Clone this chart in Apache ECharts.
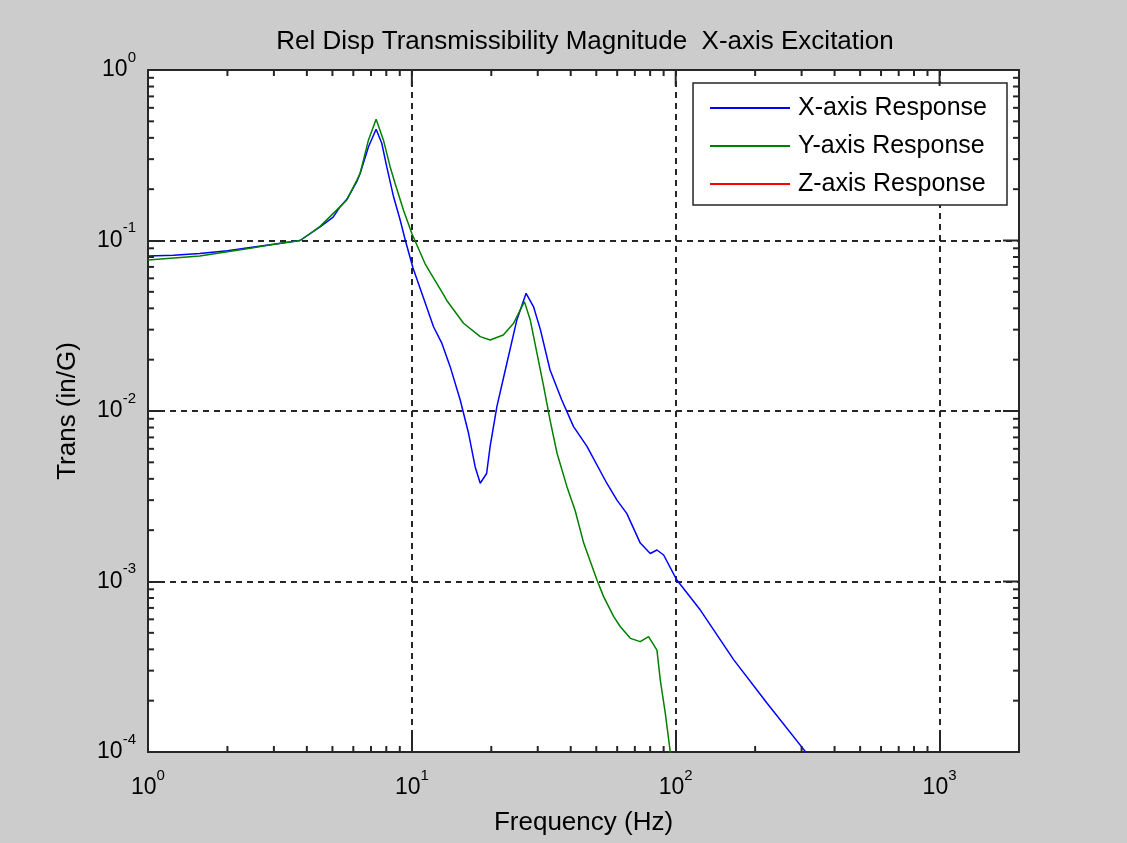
<!DOCTYPE html>
<html>
<head>
<meta charset="utf-8">
<title>Rel Disp Transmissibility</title>
<script src="https://cdn.jsdelivr.net/npm/echarts@6/dist/echarts.min.js"></script>
<style>
  html, body { margin: 0; padding: 0; background: #cccccc; }
  #chart { width: 1127px; height: 843px; }
</style>
</head>
<body>
<div id="chart"></div>
<script>
// frequency (Hz) and transmissibility (in/G)
const freqX = [1.00, 1.25, 1.57, 2.00, 2.44, 3.00, 3.77, 4.49, 5.03, 5.35, 5.68, 6.19, 6.37, 6.85, 7.32, 7.69, 8.03, 8.52, 9.03, 9.45,
  10.1, 11.07, 12.08, 13.0, 13.97, 15.25, 16.4, 17.38, 18.16, 19.2, 19.8, 21.0, 22.9, 25.0, 27.1, 28.9, 30.7, 33.4, 37.0,
  41.0, 46.1, 54.8, 59.9, 65.3, 73.4, 80.1, 84.9, 90.0, 101, 124, 166, 222, 314];
const magX = [0.081, 0.082, 0.084, 0.087, 0.091, 0.095, 0.100, 0.120, 0.137, 0.158, 0.175, 0.222, 0.248, 0.355, 0.449, 0.372, 0.271, 0.181, 0.132, 0.100,
  0.069, 0.046, 0.0312, 0.0249, 0.0182, 0.0116, 0.0074, 0.0047, 0.00377, 0.0043, 0.0062, 0.0106, 0.019, 0.0342, 0.049, 0.041, 0.030, 0.0174, 0.0116,
  0.0081, 0.0062, 0.00377, 0.0030, 0.0025, 0.00168, 0.00146, 0.00153, 0.00143, 0.00102, 0.00068, 0.000347, 0.000193, 0.0000982];

const freqY = [1.00, 1.57, 2.44, 3.00, 3.77, 4.49, 5.35, 5.67, 6.19, 6.37, 6.85, 7.32, 7.80, 8.27, 8.64, 9.29, 10.0, 11.2, 11.73, 13.2,
  13.56, 15.7, 18.16, 19.8, 22.2, 24.3, 26.7, 28.1, 29.8, 31.6, 33.4, 35.5, 38.7, 41.6, 44.8, 50.3, 53.3, 58.2, 61.7, 67.3,
  73.4, 78.9, 84.9, 87.4, 91.3, 95.5];
const magY = [0.0769, 0.081, 0.090, 0.095, 0.100, 0.121, 0.158, 0.173, 0.226, 0.248, 0.389, 0.514, 0.389, 0.271, 0.216, 0.151, 0.110, 0.0735, 0.065, 0.048,
  0.0445, 0.0327, 0.0273, 0.0261, 0.0279, 0.0327, 0.0438, 0.0342, 0.0218, 0.0139, 0.00885, 0.00565, 0.0036, 0.0026, 0.00168, 0.00102, 0.000815, 0.000622, 0.000543, 0.000464,
  0.000444, 0.000475, 0.000396, 0.000264, 0.000169, 0.0000982];

// Z response stays below the plotted range
const freqZ = [];
const magZ = [];

const seriesNames = ['X-axis Response', 'Y-axis Response', 'Z-axis Response'];
const seriesColors = ['#0000ff', '#008000', '#ff0000'];

const xMin = 1, xMax = 2000;
const yMin = 1e-4, yMax = 1;

const pairs = (f, m) => f.map((v, i) => [v, m[i]]);

// "10" with the exponent raised
function powLabel(v) {
  const e = Math.log10(v);
  const r = Math.round(e);
  if (Math.abs(e - r) > 1e-6) return '';
  return '{b|10}{e|' + r + '}';
}

const labelRich = {
  b: { fontFamily: 'Liberation Sans', fontSize: 23, lineHeight: 40, color: '#000', verticalAlign: 'middle' },
  e: { fontFamily: 'Liberation Sans', fontSize: 15, lineHeight: 16, color: '#000', verticalAlign: 'top' }
};

const axisColor = '#262626';

const chart = echarts.init(document.getElementById('chart'));

chart.setOption({
  animation: false,
  backgroundColor: '#cccccc',
  textStyle: { fontFamily: 'Liberation Sans' },
  title: {
    text: 'Rel Disp Transmissibility Magnitude  X-axis Excitation',
    left: 580,
    top: 24,
    textAlign: 'center',
    textStyle: { fontFamily: 'Liberation Sans', fontSize: 26, fontWeight: 'normal', color: '#000' }
  },
  legend: {
    orient: 'vertical',
    right: 120,
    top: 83,
    padding: [12, 20, 8, 17],
    itemGap: 12,
    itemWidth: 80,
    itemHeight: 2,
    icon: 'rect',
    backgroundColor: '#fff',
    borderColor: axisColor,
    borderWidth: 1.5,
    borderRadius: 0,
    textStyle: { fontFamily: 'Liberation Sans', fontSize: 25, lineHeight: 26, color: '#000', padding: [0, 0, 0, 3] },
    data: seriesNames
  },
  grid: {
    left: 148, right: 108, top: 70, bottom: 91,
    show: true,
    backgroundColor: '#fff',
    borderColor: axisColor,
    borderWidth: 2,
    containLabel: false
  },
  xAxis: {
    type: 'log',
    logBase: 10,
    min: xMin,
    max: xMax,
    name: 'Frequency (Hz)',
    nameLocation: 'middle',
    nameGap: 58,
    nameTextStyle: { fontFamily: 'Liberation Sans', fontSize: 26, color: '#000' },
    axisLine: { show: false },
    axisTick: { show: true, inside: true, length: 16, lineStyle: { color: axisColor, width: 2 } },
    axisLabel: { margin: 16, formatter: powLabel, rich: labelRich },
    splitLine: { show: true, lineStyle: { color: axisColor, width: 2, type: [6, 5] } }
  },
  yAxis: {
    type: 'log',
    logBase: 10,
    min: yMin,
    max: yMax,
    name: 'Trans (in/G)',
    nameLocation: 'middle',
    nameGap: 67,
    nameTextStyle: { fontFamily: 'Liberation Sans', fontSize: 26, color: '#000' },
    axisLine: { show: false },
    axisTick: { show: true, inside: true, length: 16, lineStyle: { color: axisColor, width: 2 } },
    axisLabel: { margin: 12, formatter: powLabel, rich: labelRich },
    splitLine: { show: true, lineStyle: { color: axisColor, width: 2, type: [6, 5] } }
  },
  series: [
    { name: seriesNames[0], type: 'line', data: pairs(freqX, magX), symbol: 'none', color: seriesColors[0], lineStyle: { width: 1.5 } },
    { name: seriesNames[1], type: 'line', data: pairs(freqY, magY), symbol: 'none', color: seriesColors[1], lineStyle: { width: 1.5 } },
    { name: seriesNames[2], type: 'line', data: pairs(freqZ, magZ), symbol: 'none', color: seriesColors[2], lineStyle: { width: 1.5 } }
  ]
});

// minor ticks (2..9 per decade) on all four sides, major ticks on top and right
function tickLine(x1, y1, x2, y2) {
  return { type: 'line', z: 50, silent: true, shape: { x1, y1, x2, y2 }, style: { stroke: axisColor, lineWidth: 2 } };
}
const gx0 = chart.convertToPixel({ xAxisIndex: 0 }, xMin);
const gx1 = chart.convertToPixel({ xAxisIndex: 0 }, xMax);
const gy0 = chart.convertToPixel({ yAxisIndex: 0 }, yMin);
const gy1 = chart.convertToPixel({ yAxisIndex: 0 }, yMax);
const ticks = [];
for (let k = 0; k <= 3; k++) {
  for (let m = 1; m <= 9; m++) {
    const v = m * Math.pow(10, k);
    if (v > xMax || (m === 1 && k === 0)) continue;
    const px = chart.convertToPixel({ xAxisIndex: 0 }, v);
    const len = m === 1 ? 16 : 6;
    ticks.push(tickLine(px, gy1, px, gy1 + len));
    if (m !== 1) ticks.push(tickLine(px, gy0, px, gy0 - len));
  }
}
for (let k = -4; k <= -1; k++) {
  for (let m = 1; m <= 9; m++) {
    const v = m * Math.pow(10, k);
    if (m === 1 && k === -4) continue;
    const py = chart.convertToPixel({ yAxisIndex: 0 }, v);
    const len = m === 1 ? 16 : 6;
    ticks.push(tickLine(gx1, py, gx1 - len, py));
    if (m !== 1) ticks.push(tickLine(gx0, py, gx0 + len, py));
  }
}
chart.setOption({ graphic: ticks });
</script>
</body>
</html>
